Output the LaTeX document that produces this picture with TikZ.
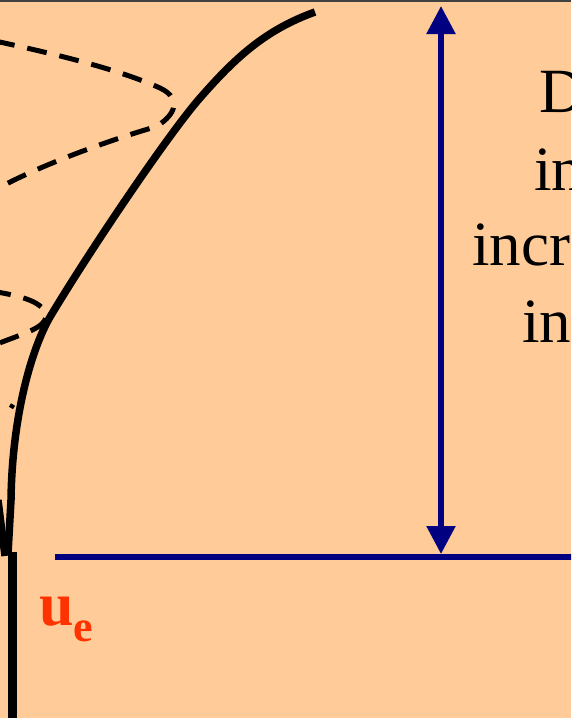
\documentclass[tikz,border=0pt]{standalone}
\usepackage{fontspec}
\setmainfont{Liberation Serif}
\usepackage{xcolor}
\usetikzlibrary{positioning,arrows.meta,calc}

\definecolor{peach}{HTML}{FFCC99}
\definecolor{arrnavy}{HTML}{000080}
\definecolor{uered}{HTML}{FF3300}

\begin{document}
\begin{tikzpicture}[x=1pt,y=-1pt,
    profile/.style={line width=7.5pt,line join=round},
    eddy/.style={line width=5pt,dash pattern=on 20pt off 13pt},
    navyline/.style={arrnavy,line width=5.5pt},
    bigtext/.style={font=\fontsize{63}{76}\selectfont,anchor=base west,inner sep=0pt}]
    \useasboundingbox (0,0) rectangle (571,718);
    \fill[peach] (0,0) rectangle (571,718);
    \draw[line width=1.5pt,black!75] (0,0.75) -- (571,0.75);
    \clip (0,0) rectangle (571,718);
    % dashed eddies, cut by the left edge
    \draw[eddy] (-5,41) .. controls (60,55) and (120,70) .. (160,88)
        .. controls (185,100) and (172,118) .. (155,127)
        .. controls (110,140) and (40,165) .. (-5,190);
    \draw[eddy,dash phase=6pt] (-3,292) .. controls (20,296) and (46,302) .. (46,317)
        .. controls (44,328) and (25,333) .. (-3,344);
    \draw[line width=4pt] (10,405) -- (14,407.5);
    % velocity profile
    \draw[profile] (315,12) .. controls (265,30) and (235,58) .. (200,98)
        .. controls (170,132) and (90,250) .. (50,317)
        .. controls (30,352) and (12,420) .. (11,500) -- (8,554);
    \draw[profile] (-2,500) -- (5,556);
    \draw[line width=8.5pt] (12.5,552) -- (12.5,720);
    % thickness arrow and edge line
    \coordinate (arrtop) at (441,6);
    \coordinate (arrbot) at (441,554);
    \coordinate (edgeleft) at (55,557);
    \coordinate (edgeright) at (575,557);
    \draw[navyline] (edgeleft) -- (edgeright);
    \draw[navyline,{Triangle[length=28pt,width=28pt]}-{Triangle[length=28pt,width=28pt]}] (arrtop) -- (arrbot);
    % text cut by the right edge
    \node[bigtext] (lineone) at (539,112) {D};
    \node[bigtext] (linetwo) at (534,190) {in};
    \node[bigtext] (linethree) at (472,265) {incr};
    \node[bigtext] (linefour) at (522,342) {in};
    \node[anchor=base west,inner sep=0pt,text=uered,font=\bfseries\fontsize{62}{62}\selectfont] (ue) at (39,625)
      {u\raisebox{-16pt}{\fontsize{44}{44}\selectfont e}};
\end{tikzpicture}
\end{document}
